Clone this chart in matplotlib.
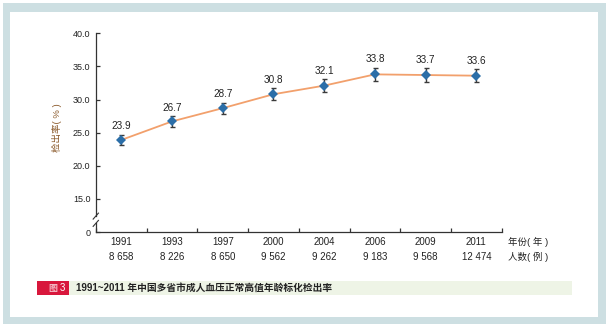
import matplotlib
matplotlib.use("Agg")
import matplotlib.pyplot as plt
import matplotlib.transforms as mtransforms
from matplotlib.patches import Rectangle
from matplotlib.lines import Line2D

plt.rcParams['font.family'] = ['Liberation Sans', 'Noto Sans CJK SC', 'DejaVu Sans']

years = ['1991', '1993', '1997', '2000', '2004', '2006', '2009', '2011']
cases = ['8 658', '8 226', '8 650', '9 562', '9 262', '9 183', '9 568', '12 474']
rates = [23.9, 26.7, 28.7, 30.8, 32.1, 33.8, 33.7, 33.6]
errors = [0.8, 0.8, 0.85, 0.9, 0.95, 1.0, 1.0, 1.0]
ytick_vals = [15, 20, 25, 30, 35, 40]

W, H = 609, 329
fig = plt.figure(figsize=(W / 100, H / 100), dpi=100, facecolor='white')


def fig_box(x0, y0, x1, y1):
    # pixel box (top-left origin) -> figure fraction rectangle
    return (x0 / W, 1 - y1 / H, (x1 - x0) / W, (y1 - y0) / H)


def add_box(x0, y0, x1, y1, color, z):
    fx, fy, fw, fh = fig_box(x0, y0, x1, y1)
    fig.patches.append(Rectangle((fx, fy), fw, fh, transform=fig.transFigure,
                                 facecolor=color, edgecolor='none', zorder=z))


# page frame and caption bar
add_box(2.5, 2.5, 606, 324.3, '#cddfe2', -3)
add_box(10, 12.3, 598.3, 316.7, 'white', -2)
add_box(36.7, 281, 69.3, 294.5, '#d8173c', -1)
add_box(69.3, 281, 571.7, 294.5, '#eef4e6', -1)
fig.text(52.5 / W, 1 - 288 / H, '图', color='#f4b8c4', fontsize=6.5,
         ha='center', va='center', fontweight='bold')
fig.text(62.5 / W, 1 - 288 / H, '3', color='white', fontsize=7,
         ha='center', va='center')
fig.text(75.5 / W, 1 - 288 / H, '1991~2011 年中国多省市成人血压正常高值年龄标化检出率',
         color='#222222', fontsize=7, ha='left', va='center', fontweight='bold')

# plotting area
ax = fig.add_axes(fig_box(96, 33.3, 501.7, 232))
ax.set_zorder(5)
ax.set_facecolor('none')
ax.set_xlim(0, len(years))
ax.set_ylim(10, 40)

xs = [i + 0.5 for i in range(len(years))]
ax.plot(xs, rates, color='#f2a06c', linewidth=1.3, zorder=2)
ax.errorbar(xs, rates, yerr=errors, fmt='none', ecolor='#3a3a3a',
            elinewidth=1.0, capsize=1.8, capthick=1.0, zorder=3)
ax.plot(xs, rates, linestyle='none', marker='D', markersize=5,
        color='#2b6ea8', markeredgewidth=0, zorder=4)

for x, r, e in zip(xs, rates, errors):
    ax.annotate(f'{r:.1f}', xy=(x, r + e), xytext=(0, 6), textcoords='offset points',
                ha='center', va='center', fontsize=7.2, color='#222222')

# axes styling
for side in ('top', 'right'):
    ax.spines[side].set_visible(False)
ax.spines['bottom'].set_color('#333333')
ax.spines['bottom'].set_linewidth(0.9)
ax.spines['left'].set_color('#333333')
ax.spines['left'].set_linewidth(0.9)
ax.spines['left'].set_bounds(12.4, 40)

ax.set_yticks([10] + ytick_vals)
ax.set_yticklabels(['0'] + [f'{v:.1f}' for v in ytick_vals])
ax.tick_params(axis='y', direction='in', length=3, width=0.9, color='#333333',
               labelsize=6.5, labelcolor='#222222', pad=4)
ax.set_xticks(range(len(years) + 1))
ax.set_xticklabels([])
ax.tick_params(axis='x', direction='in', length=3, width=0.9, color='#333333')

# broken axis marks
bt = mtransforms.blended_transform_factory(ax.transAxes, ax.transData)
ax.add_line(Line2D([0, 0], [10, 11.3], transform=bt, color='#333333',
                   linewidth=0.9, clip_on=False))
for yb in (12.4, 11.3):
    ax.add_line(Line2D([-0.007, 0.006], [yb - 0.45, yb + 0.45], transform=bt,
                       color='#333333', linewidth=0.8, clip_on=False))

# category labels under the axis
xt = mtransforms.blended_transform_factory(ax.transData, ax.transAxes)
for x, yr, n in zip(xs, years, cases):
    ax.text(x, -0.052, yr, transform=xt, ha='center', va='center',
            fontsize=7, color='#222222')
    ax.text(x, -0.126, n, transform=xt, ha='center', va='center',
            fontsize=7, color='#222222')
ax.text(1.016, -0.052, '年份( 年 )', transform=ax.transAxes, ha='left',
        va='center', fontsize=6.8, color='#222222')
ax.text(1.016, -0.126, '人数( 例 )', transform=ax.transAxes, ha='left',
        va='center', fontsize=6.8, color='#222222')

fig.text(57 / W, 1 - 128 / H, '检出率( % )', rotation=90, ha='center', va='center',
         fontsize=6.8, color='#8b5a2b')

fig.savefig('out.png', dpi=100, facecolor='white')
